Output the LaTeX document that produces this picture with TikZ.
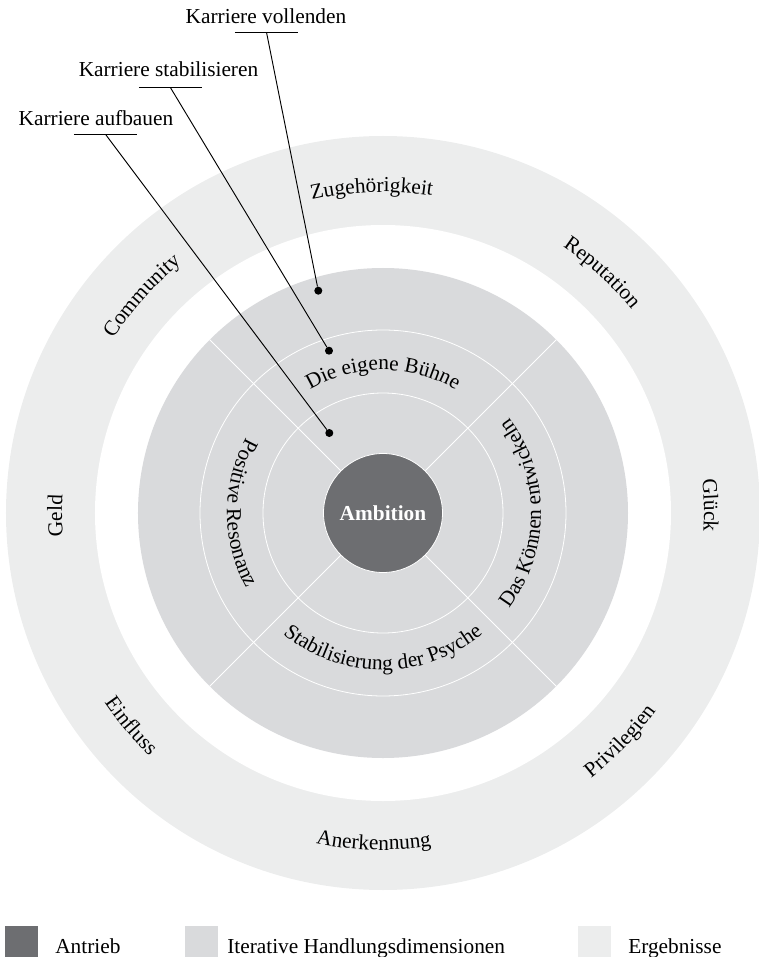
\documentclass[tikz,border=0pt]{standalone}
\usepackage{fontspec}
\setmainfont{Liberation Serif}
\usetikzlibrary{decorations.text}
\definecolor{cdark}{HTML}{6D6E71}
\definecolor{cmid}{HTML}{D9DADC}
\definecolor{clight}{HTML}{ECEDED}
\newcommand\lblfont{\fontsize{16}{19}\selectfont}
\begin{document}
\begin{tikzpicture}[x=0.75pt,y=0.75pt,
  sep/.style={draw=white,line width=0.6pt},
  curvetext/.style={decorate,decoration={text along path,text align=center,text={|\lblfont|#1}}},
  dotnode/.style={circle,fill=black,inner sep=0pt,minimum size=6pt},
  lbl/.style={font=\lblfont,inner sep=0pt,anchor=base},
  conn/.style={draw=black,line width=0.7pt},
  legsq/.style={inner sep=0pt,minimum width=24.75pt,minimum height=23.25pt,anchor=north west},
  legtext/.style={font=\lblfont,inner sep=0pt,anchor=base west}]
\useasboundingbox (-383,-444) rectangle (375,513);

% rings
\fill[clight] (0,0) circle[radius=377];
\fill[white] (0,0) circle[radius=288];
\fill[cmid] (0,0) circle[radius=245];
\draw[sep] (0,0) circle[radius=183];
\draw[sep] (0,0) circle[radius=120];
\foreach \a in {45,135,225,315}{
  \draw[sep] (\a:59) -- (\a:245);
}
\node[circle,fill=cdark,draw=white,line width=0.6pt,minimum size=89.25pt,inner sep=0pt,
      text=white,font=\lblfont\bfseries] (amb) at (0,0) {Ambition};

% outer ring labels (clockwise, tops outward)
\path[curvetext={Zugehörigkeit}] (142:321) arc[start angle=142,end angle=42,radius=321];
\path[curvetext={Reputation}] (97.6:321) arc[start angle=97.6,end angle=-2.4,radius=321];
\path[curvetext={Glück}] (51.4:321) arc[start angle=51.4,end angle=-48.6,radius=321];
\path[curvetext={Geld}] (230.5:321) arc[start angle=230.5,end angle=130.5,radius=321];
\path[curvetext={Community}] (188:321) arc[start angle=188,end angle=88,radius=321];
% outer ring labels (counter-clockwise, tops inward)
\path[curvetext={Privilegien}] (266.1:337) arc[start angle=266.1,end angle=366.1,radius=337];
\path[curvetext={Anerkennung}] (218.4:337) arc[start angle=218.4,end angle=318.4,radius=337];
\path[curvetext={Einfluss}] (170.2:337) arc[start angle=170.2,end angle=270.2,radius=337];

% inner ring labels
\path[curvetext={Die eigene Bühne}] (160:143) arc[start angle=160,end angle=20,radius=143];
\path[curvetext={Das Können entwickeln}] (-70:158) arc[start angle=-70,end angle=70,radius=158];
\path[curvetext={Stabilisierung der Psyche}] (200:157) arc[start angle=200,end angle=340,radius=157];
\path[curvetext={Positive Resonanz}] (110:156) arc[start angle=110,end angle=250,radius=156];

% dots
\node[dotnode] (d1) at (-64.7,222.3) {};
\node[dotnode] (d2) at (-54,162.3) {};
\node[dotnode] (d3) at (-53.7,80) {};

% callout labels
\node[lbl] (k1) at (-117,489) {Karriere vollenden};
\node[lbl] (k2) at (-214.5,436) {Karriere stabilisieren};
\node[lbl] (k3) at (-287,387) {Karriere aufbauen};
\coordinate (u1) at (-116.5,480.7);
\coordinate (u2) at (-212.5,425.3);
\coordinate (u3) at (-277.5,378.7);
\foreach \u in {u1,u2,u3}{
  \draw[conn] (\u) ++(-31.5,0) -- ++(63,0);
}
\draw[conn] (u1) -- (d1);
\draw[conn] (u2) -- (d2);
\draw[conn] (u3) -- (d3);

% legend
\node[legsq,fill=cdark] (s1) at (-378,-413) {};
\node[legsq,fill=cmid] (s2) at (-198,-413) {};
\node[legsq,fill=clight] (s3) at (195,-413) {};
\node[legtext] (t1) at (-328,-440) {Antrieb};
\node[legtext] (t2) at (-156,-440) {Iterative Handlungsdimensionen};
\node[legtext] (t3) at (245,-440) {Ergebnisse};
\end{tikzpicture}
\end{document}
